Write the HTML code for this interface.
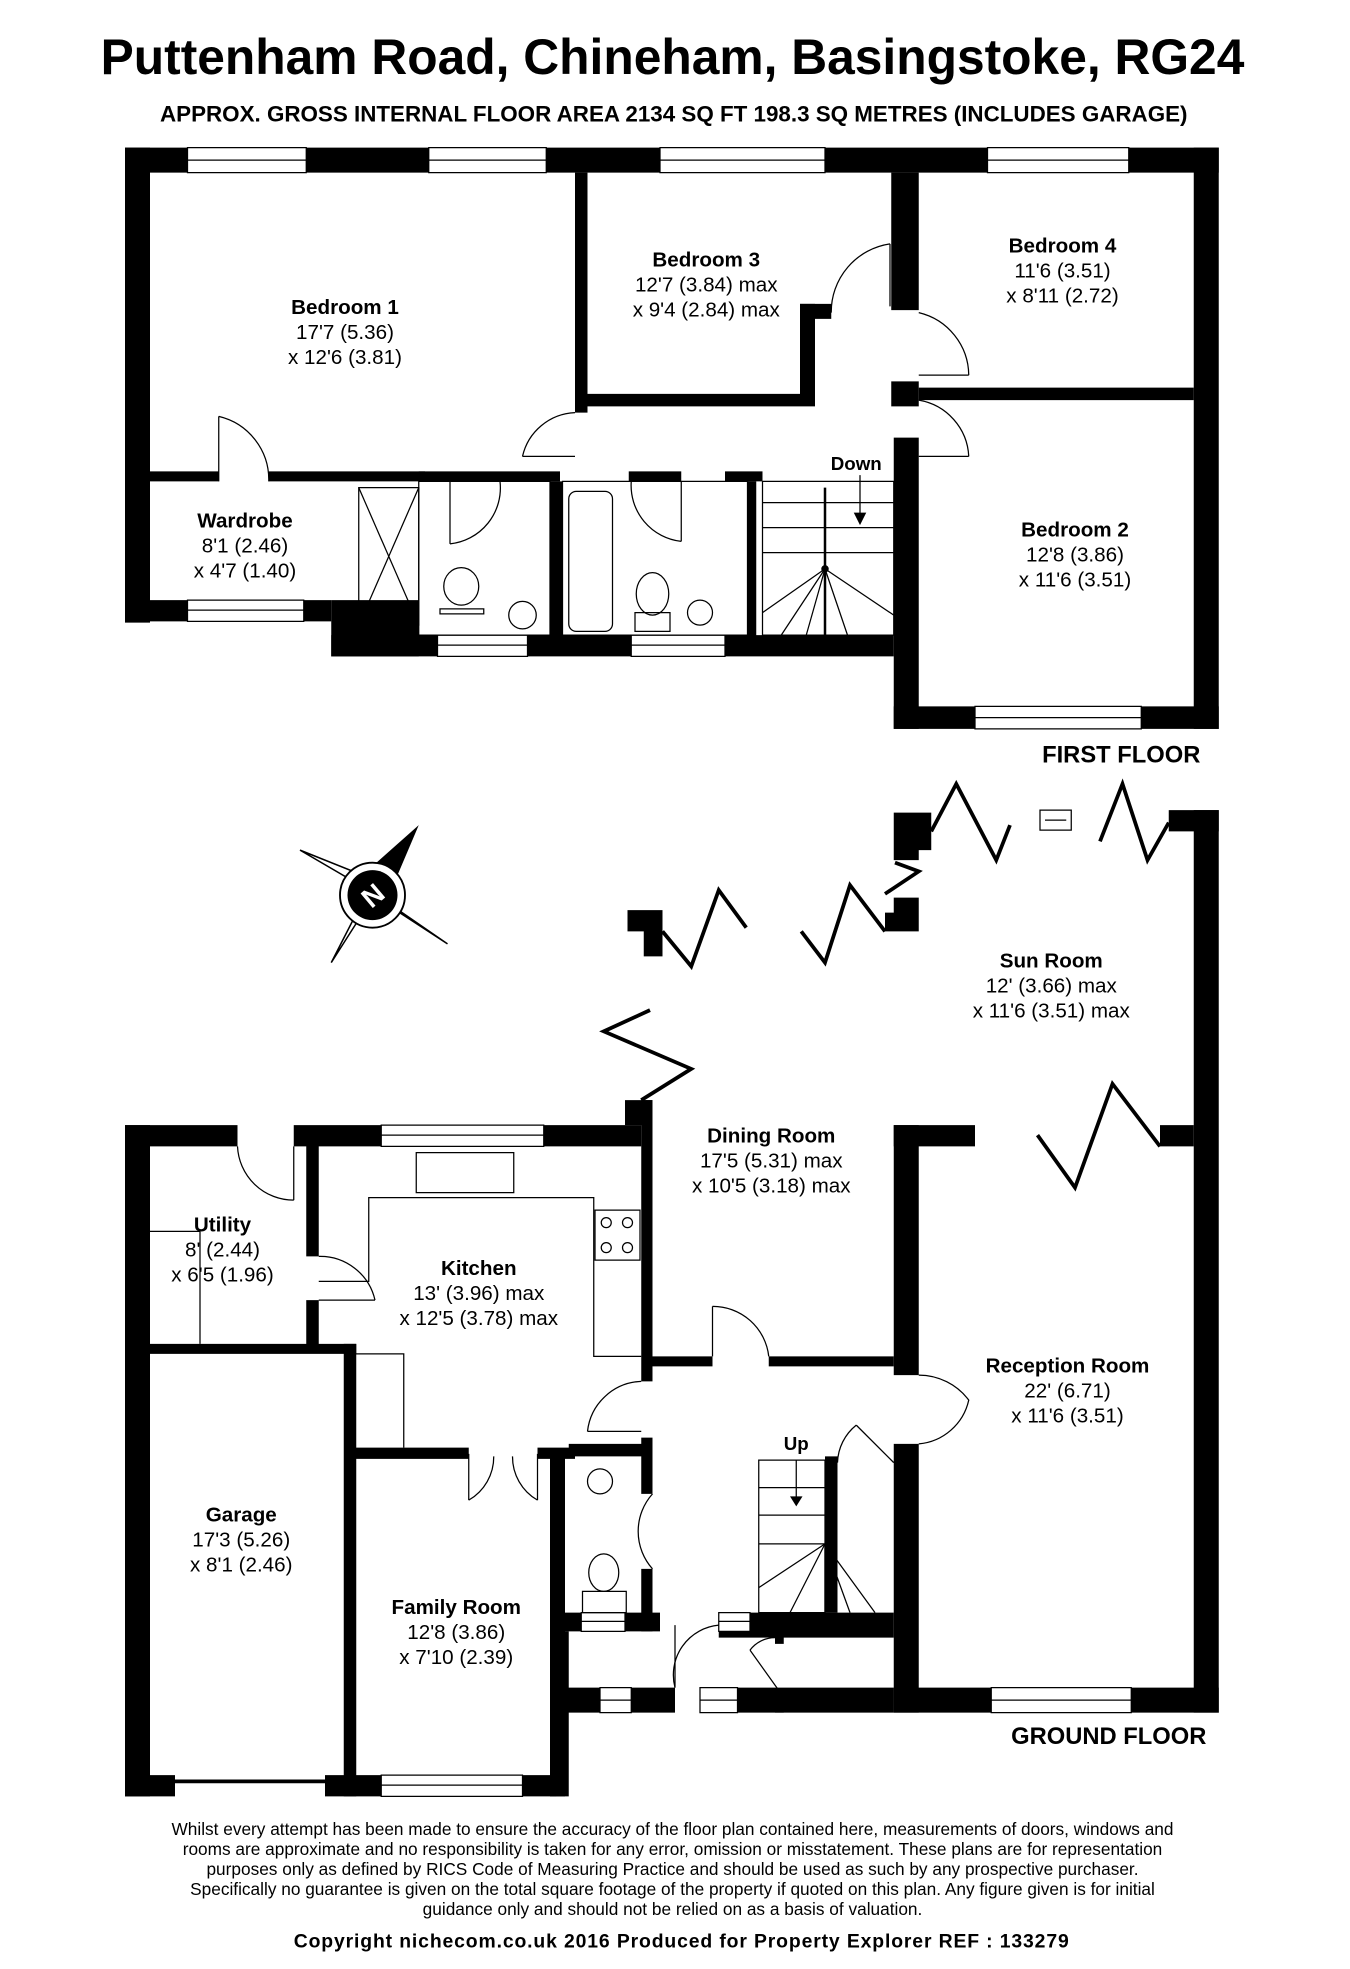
<!DOCTYPE html>
<html><head><meta charset="utf-8"><style>
html,body{margin:0;padding:0;background:#fff}
svg{display:block}
text{font-family:"Liberation Sans",sans-serif;fill:#000}
.b{font-weight:bold;font-size:16.5px}
.d{font-size:16.5px}
.w{fill:#000}
.win{fill:#fff;stroke:#000;stroke-width:1}
.ln{fill:none;stroke:#000;stroke-width:1}
.z{fill:none;stroke:#000;stroke-width:3}
</style></head><body>
<svg width="1350" height="1969" viewBox="0 0 1080 1575" xmlns="http://www.w3.org/2000/svg">
<rect width="1080" height="1575" fill="#fff"/>
<text x="538" y="59" text-anchor="middle" textLength="915" lengthAdjust="spacingAndGlyphs" style="font-weight:bold;font-size:40px">Puttenham Road, Chineham, Basingstoke, RG24</text>
<text x="539" y="97" text-anchor="middle" textLength="822" lengthAdjust="spacingAndGlyphs" style="font-weight:bold;font-size:17.5px">APPROX. GROSS INTERNAL FLOOR AREA 2134 SQ FT 198.3 SQ METRES (INCLUDES GARAGE)</text>

<!-- FIRST FLOOR -->
<g class="w">
<rect x="100" y="118" width="875" height="20"/>
<rect x="100" y="118" width="20" height="380"/>
<rect x="460" y="138" width="10" height="192"/>
<rect x="460" y="315" width="180" height="10"/>
<rect x="640" y="243" width="12" height="82"/>
<rect x="640" y="243" width="25" height="12"/>
<rect x="713" y="138" width="22" height="110"/>
<rect x="713" y="305" width="22" height="20"/>
<rect x="735" y="310" width="220" height="10"/>
<rect x="955" y="118" width="20" height="465"/>
<rect x="715" y="350" width="20" height="233"/>
<rect x="715" y="565" width="260" height="18"/>
<rect x="120" y="377" width="55" height="8"/>
<rect x="215" y="377" width="125" height="8"/>
<rect x="335" y="377" width="113" height="8"/>
<rect x="503" y="377" width="42" height="8"/>
<rect x="580" y="377" width="30" height="8"/>
<rect x="440" y="385" width="10" height="125"/>
<rect x="598" y="385" width="7" height="125"/>
<rect x="100" y="480" width="165" height="17"/>
<rect x="265" y="480" width="70" height="45"/>
<rect x="265" y="508" width="450" height="17"/>
</g>
<g>
<rect class="win" x="150" y="118" width="95" height="20"/>
<rect class="win" x="343" y="118" width="94" height="20"/>
<rect class="win" x="528" y="118" width="132" height="20"/>
<rect class="win" x="790" y="118" width="113" height="20"/>
<rect class="win" x="780" y="565" width="133" height="18"/>
<rect class="win" x="150" y="480" width="93" height="17"/>
<rect class="win" x="350" y="508" width="72" height="17"/>
<rect class="win" x="505" y="508" width="75" height="17"/>
</g>
<g class="ln">
<line x1="150" y1="128" x2="245" y2="128"/><line x1="343" y1="128" x2="437" y2="128"/><line x1="528" y1="128" x2="660" y2="128"/><line x1="790" y1="128" x2="903" y2="128"/>
<line x1="780" y1="574" x2="913" y2="574"/><line x1="150" y1="488" x2="243" y2="488"/><line x1="350" y1="516" x2="422" y2="516"/><line x1="505" y1="516" x2="580" y2="516"/>
<line x1="175" y1="333" x2="175" y2="385"/><path d="M175 333 A52 52 0 0 1 215 385"/>
<line x1="712" y1="245" x2="712" y2="195"/><path d="M712 195 A55 55 0 0 0 665 250"/>
<line x1="735" y1="300" x2="775" y2="300"/><path d="M735 250 A52 52 0 0 1 775 300"/>
<path d="M735 320 A48 48 0 0 1 775 365"/><line x1="735" y1="365" x2="775" y2="365"/>
<path d="M460 330 A45 45 0 0 0 418 365"/><line x1="418" y1="365" x2="460" y2="365"/>
<line x1="360" y1="385" x2="360" y2="435"/><path d="M360 435 A45 45 0 0 0 400 385"/>
<line x1="545" y1="385" x2="545" y2="433"/><path d="M545 433 A45 45 0 0 1 505 385"/>
<rect x="287" y="390" width="48" height="110"/><line x1="287" y1="390" x2="335" y2="500"/><line x1="335" y1="390" x2="287" y2="500"/>
<rect x="335" y="385" width="105" height="123"/>
<ellipse cx="369" cy="469" rx="14" ry="15"/><rect x="352" y="487" width="35" height="4"/>
<circle cx="418" cy="492" r="11"/>
<rect x="455" y="393" width="35" height="112" rx="6"/><rect x="450" y="385" width="148" height="123"/>
<ellipse cx="522" cy="475" rx="13" ry="17"/><rect x="508" y="490" width="28" height="15"/>
<circle cx="560" cy="490" r="10"/>
<rect x="610" y="385" width="105" height="123"/>
<line x1="610" y1="402" x2="715" y2="402"/><line x1="610" y1="422" x2="715" y2="422"/><line x1="610" y1="442" x2="715" y2="442"/>
<line x1="660" y1="390" x2="660" y2="508" style="stroke-width:2"/>
<line x1="660" y1="455" x2="610" y2="490"/><line x1="660" y1="455" x2="625" y2="508"/><line x1="660" y1="455" x2="645" y2="508"/><line x1="660" y1="455" x2="678" y2="508"/><line x1="660" y1="455" x2="715" y2="492"/>
<line x1="688" y1="380" x2="688" y2="418"/>
</g>
<path d="M683 410 L693 410 L688 420 Z"/>
<circle cx="660" cy="455" r="3"/>
<text x="685" y="376" text-anchor="middle" class="b" style="font-size:15px">Down</text>
<text x="276" y="251" text-anchor="middle" class="b">Bedroom 1</text>
<text x="276" y="271" text-anchor="middle" class="d">17'7 (5.36)</text>
<text x="276" y="291" text-anchor="middle" class="d">x 12'6 (3.81)</text>
<text x="565" y="213" text-anchor="middle" class="b">Bedroom 3</text>
<text x="565" y="233" text-anchor="middle" class="d">12'7 (3.84) max</text>
<text x="565" y="253" text-anchor="middle" class="d">x 9'4 (2.84) max</text>
<text x="850" y="202" text-anchor="middle" class="b">Bedroom 4</text>
<text x="850" y="222" text-anchor="middle" class="d">11'6 (3.51)</text>
<text x="850" y="242" text-anchor="middle" class="d">x 8'11 (2.72)</text>
<text x="860" y="429" text-anchor="middle" class="b">Bedroom 2</text>
<text x="860" y="449" text-anchor="middle" class="d">12'8 (3.86)</text>
<text x="860" y="469" text-anchor="middle" class="d">x 11'6 (3.51)</text>
<text x="196" y="422" text-anchor="middle" class="b">Wardrobe</text>
<text x="196" y="442" text-anchor="middle" class="d">8'1 (2.46)</text>
<text x="196" y="462" text-anchor="middle" class="d">x 4'7 (1.40)</text>
<text x="897" y="610" text-anchor="middle" class="b" style="font-size:19px">FIRST FLOOR</text>

<g>
<path d="M240 680 L290 700 L300 715 Z" class="ln" style="stroke-width:1.2"/>
<path d="M358 755 L312 725 L300 715 Z" class="ln" style="stroke-width:1.2"/>
<path d="M265 770 L288 725 L300 715 Z" class="ln" style="stroke-width:1.2"/>
<path d="M335 660 L318 700 L300 715 L290 700 Z" fill="#000"/>
<circle cx="298" cy="716" r="26" fill="#fff" stroke="#000" stroke-width="1.5"/>
<circle cx="298" cy="716" r="20" fill="#000"/>
<text x="298" y="724" text-anchor="middle" transform="rotate(-40 298 716)" style="fill:#fff;font-weight:bold;font-size:22px">N</text>
</g>

<g class="w">
<path d="M715 650 H745 V680 H735 V688 H715 Z"/>
<rect x="935" y="648" width="40" height="17"/>
<rect x="955" y="648" width="20" height="722"/>
<path d="M735 718 V745 H708 V730 H715 V718 Z"/>
<path d="M502 728 H530 V765 H515 V745 H502 Z"/>
<rect x="513" y="880" width="9" height="225"/>
<rect x="500" y="880" width="22" height="20"/>
<rect x="928" y="900" width="27" height="17"/>
<rect x="715" y="900" width="65" height="17"/>
<rect x="715" y="900" width="20" height="200"/>
<rect x="715" y="1155" width="20" height="215"/>
<rect x="715" y="1350" width="260" height="20"/>
</g>
<rect class="win" x="832" y="648" width="25" height="16"/><line class="ln" x1="836" y1="656" x2="853" y2="656"/>
<rect class="win" x="793" y="1350" width="112" height="20"/><line class="ln" x1="793" y1="1360" x2="905" y2="1360"/>
<g class="z">
<polyline points="745,665 765,627 797,688 808,660"/>
<polyline points="880,673 898,627 918,688 935,658"/>
<polyline points="641,745 660,770 680,708 708,745"/>
<polyline points="708,715 735,697 716,690"/>
<polyline points="530,745 553,773 575,712 597,742"/>
<polyline points="520,808 483,825 553,855 513,880"/>
<polyline points="830,908 860,950 890,867 928,917"/>
</g>
<text x="841" y="774" text-anchor="middle" class="b">Sun Room</text>
<text x="841" y="794" text-anchor="middle" class="d">12' (3.66) max</text>
<text x="841" y="814" text-anchor="middle" class="d">x 11'6 (3.51) max</text>

<g class="w">
<rect x="100" y="900" width="90" height="17"/>
<rect x="100" y="900" width="20" height="537"/>
<rect x="235" y="900" width="278" height="17"/>
<rect x="245" y="905" width="10" height="100"/>
<rect x="245" y="1040" width="10" height="40"/>
<rect x="120" y="1075" width="165" height="8"/>
<rect x="275" y="1075" width="10" height="362"/>
<rect x="100" y="1420" width="40" height="17"/>
<rect x="260" y="1420" width="185" height="17"/>
<rect x="283" y="1158" width="92" height="9"/>
<rect x="430" y="1158" width="30" height="9"/>
<rect x="440" y="1160" width="12" height="277"/>
<rect x="455" y="1155" width="65" height="10"/>
<rect x="513" y="1150" width="9" height="45"/>
<rect x="513" y="1255" width="9" height="50"/>
<rect x="522" y="1085" width="48" height="8"/>
<rect x="615" y="1085" width="100" height="8"/>
<rect x="452" y="1290" width="76" height="15"/>
<rect x="440" y="1305" width="15" height="132"/>
<rect x="575" y="1290" width="140" height="20"/>
<rect x="660" y="1165" width="10" height="125"/>
<rect x="452" y="1350" width="88" height="20"/>
<rect x="560" y="1350" width="155" height="20"/>
<rect x="620" y="1300" width="7" height="15"/>
<rect x="620" y="1355" width="7" height="15"/>
</g>
<g>
<rect class="win" x="305" y="900" width="130" height="17"/>
<rect class="win" x="305" y="1420" width="113" height="17"/>
<rect class="win" x="465" y="1290" width="35" height="15"/>
<rect class="win" x="575" y="1290" width="25" height="15"/>
<rect class="win" x="480" y="1350" width="25" height="20"/>
<rect class="win" x="560" y="1350" width="30" height="20"/>
</g>
<g class="ln">
<line x1="305" y1="908" x2="435" y2="908"/><line x1="305" y1="1428" x2="418" y2="1428"/>
<line x1="465" y1="1297" x2="500" y2="1297"/><line x1="575" y1="1297" x2="600" y2="1297"/>
<line x1="480" y1="1360" x2="505" y2="1360"/><line x1="560" y1="1360" x2="590" y2="1360"/>
<line x1="140" y1="1425" x2="260" y2="1425" style="stroke-width:3"/>
<line x1="235" y1="917" x2="235" y2="960"/><path d="M190 917 A45 45 0 0 0 235 960"/>
<line x1="255" y1="1040" x2="300" y2="1040"/><path d="M255 1005 A45 45 0 0 1 300 1040"/>
<line x1="120" y1="985" x2="160" y2="985"/><line x1="160" y1="985" x2="160" y2="1075"/>
<rect x="333" y="922" width="78" height="32"/>
<polyline points="255,1025 295,1025 295,958 475,958 475,1085 513,1085"/>
<rect x="476" y="968" width="36" height="40"/>
<circle cx="485" cy="978" r="4"/><circle cx="502" cy="978" r="4"/><circle cx="485" cy="998" r="4"/><circle cx="502" cy="998" r="4"/>
<polyline points="283,1083 323,1083 323,1158"/>
<line x1="375" y1="1163" x2="375" y2="1200"/><path d="M375 1200 A40 40 0 0 0 395 1165"/>
<line x1="430" y1="1163" x2="430" y2="1200"/><path d="M430 1200 A40 40 0 0 1 410 1165"/>
<path d="M513 1105 A45 45 0 0 0 470 1145"/><line x1="470" y1="1145" x2="513" y2="1145"/>
<path d="M570 1045 A45 45 0 0 1 615 1085"/><line x1="570" y1="1045" x2="570" y2="1085"/>
<path d="M735 1100 A50 50 0 0 1 775 1120 A45 45 0 0 1 735 1155"/>
<line x1="685" y1="1140" x2="715" y2="1170"/><path d="M685 1140 A40 40 0 0 0 670 1170"/>
<path d="M522 1195 A45 45 0 0 0 522 1255"/>
<path d="M540 1350 A40 40 0 0 1 575 1300"/><line x1="540" y1="1300" x2="540" y2="1350"/>
<line x1="600" y1="1320" x2="625" y2="1355"/><path d="M600 1320 A25 25 0 0 1 620 1310"/>
<circle cx="480" cy="1185" r="10"/>
<ellipse cx="483" cy="1258" rx="12" ry="15"/><rect x="466" y="1273" width="35" height="17"/>
<rect x="607" y="1168" width="53" height="122"/>
<line x1="607" y1="1190" x2="660" y2="1190"/><line x1="607" y1="1212" x2="660" y2="1212"/><line x1="607" y1="1235" x2="660" y2="1235"/>
<line x1="660" y1="1235" x2="607" y2="1270"/><line x1="660" y1="1235" x2="632" y2="1290"/><line x1="660" y1="1235" x2="660" y2="1290"/><line x1="660" y1="1235" x2="680" y2="1290"/><line x1="660" y1="1235" x2="700" y2="1290"/>
<line x1="637" y1="1168" x2="637" y2="1200"/>
</g>
<path d="M632 1197 L642 1197 L637 1205 Z"/>
<text x="637" y="1160" text-anchor="middle" class="b" style="font-size:15px">Up</text>

<text x="617" y="914" text-anchor="middle" class="b">Dining Room</text>
<text x="617" y="934" text-anchor="middle" class="d">17'5 (5.31) max</text>
<text x="617" y="954" text-anchor="middle" class="d">x 10'5 (3.18) max</text>
<text x="178" y="985" text-anchor="middle" class="b">Utility</text>
<text x="178" y="1005" text-anchor="middle" class="d">8' (2.44)</text>
<text x="178" y="1025" text-anchor="middle" class="d">x 6'5 (1.96)</text>
<text x="383" y="1020" text-anchor="middle" class="b">Kitchen</text>
<text x="383" y="1040" text-anchor="middle" class="d">13' (3.96) max</text>
<text x="383" y="1060" text-anchor="middle" class="d">x 12'5 (3.78) max</text>
<text x="854" y="1098" text-anchor="middle" class="b">Reception Room</text>
<text x="854" y="1118" text-anchor="middle" class="d">22' (6.71)</text>
<text x="854" y="1138" text-anchor="middle" class="d">x 11'6 (3.51)</text>
<text x="193" y="1217" text-anchor="middle" class="b">Garage</text>
<text x="193" y="1237" text-anchor="middle" class="d">17'3 (5.26)</text>
<text x="193" y="1257" text-anchor="middle" class="d">x 8'1 (2.46)</text>
<text x="365" y="1291" text-anchor="middle" class="b">Family Room</text>
<text x="365" y="1311" text-anchor="middle" class="d">12'8 (3.86)</text>
<text x="365" y="1331" text-anchor="middle" class="d">x 7'10 (2.39)</text>
<text x="887" y="1395" text-anchor="middle" class="b" style="font-size:19px">GROUND FLOOR</text>

<g style="font-size:13.8px" text-anchor="middle">
<text x="538" y="1468">Whilst every attempt has been made to ensure the accuracy of the floor plan contained here, measurements of doors, windows and</text>
<text x="538" y="1484">rooms are approximate and no responsibility is taken for any error, omission or misstatement. These plans are for representation</text>
<text x="538" y="1500">purposes only as defined by RICS Code of Measuring Practice and should be used as such by any prospective purchaser.</text>
<text x="538" y="1516">Specifically no guarantee is given on the total square footage of the property if quoted on this plan. Any figure given is for initial</text>
<text x="538" y="1532">guidance only and should not be relied on as a basis of valuation.</text>
</g>
<text x="545" y="1558" text-anchor="middle" textLength="620" lengthAdjust="spacing" style="font-weight:bold;font-size:15.5px">Copyright nichecom.co.uk 2016    Produced for Property Explorer    REF : 133279</text>
</svg>
</body></html>
